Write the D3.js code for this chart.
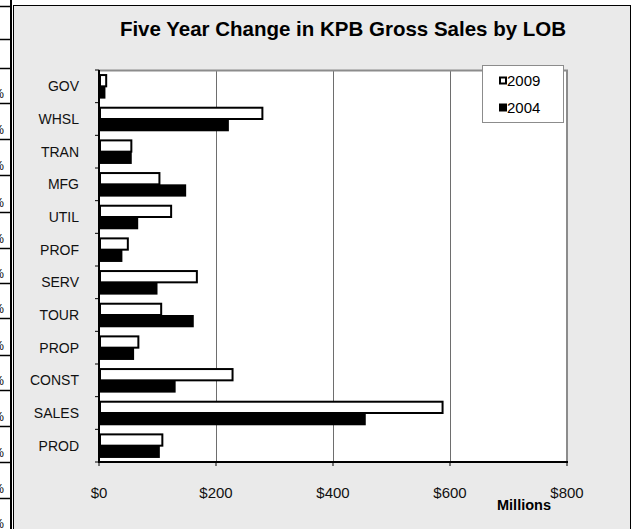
<!DOCTYPE html>
<html>
<head>
<meta charset="utf-8">
<script src="https://cdn.jsdelivr.net/npm/d3@7"></script>
<style>
  html, body { margin: 0; padding: 0; background: #ffffff; }
  svg { display: block; font-family: Arial, "Liberation Sans", sans-serif; }
</style>
</head>
<body>
<svg id="chart" width="633" height="529"></svg>
<script>
// ---- Data ----
const categories = ["GOV", "WHSL", "TRAN", "MFG", "UTIL", "PROF", "SERV", "TOUR", "PROP", "CONST", "SALES", "PROD"];
const seriesNames = ["2009", "2004"];
const values2009 = [14, 281, 57, 105, 125, 51, 169, 108, 69, 230, 589, 110];
const values2004 = [11, 222, 56, 149, 67, 40, 100, 162, 60, 131, 456, 104];
const xTicks = [0, 200, 400, 600, 800];
const titleText = "Five Year Change in KPB Gross Sales by LOB";
const axisTitle = "Millions";

const svg = d3.select("#chart");

// ---- Spreadsheet fragment on the far left ----
const rowLines = [6.5, 39.5, 68.5, 103.5, 139.5, 175.5, 212.5, 248.5, 283.5, 318.5, 355.5, 390.5, 426.5, 462.5, 498.5];
svg.append("g").selectAll("line").data(rowLines).join("line")
  .attr("x1", 0).attr("x2", 12).attr("y1", d => d).attr("y2", d => d)
  .attr("stroke", "#000").attr("stroke-width", 1.5);
svg.append("line").attr("x1", 11).attr("x2", 11).attr("y1", 0).attr("y2", 529)
  .attr("stroke", "#000").attr("stroke-width", 2);
svg.append("g").selectAll("text").data(rowLines.slice(3).concat([534])).join("text")
  .attr("x", 4).attr("y", d => d - 6).attr("text-anchor", "end")
  .attr("font-size", 12).attr("fill", "#000").text("0%");

// ---- Chart area ----
svg.append("rect").attr("x", 13.5).attr("y", 5.5).attr("width", 617).attr("height", 530)
  .attr("fill", "#eaeaea").attr("stroke", "#000").attr("stroke-width", 1);

svg.append("text").attr("x", 343).attr("y", 36).attr("text-anchor", "middle")
  .attr("font-size", 20.5).attr("font-weight", "bold").attr("fill", "#000").text(titleText);

const margin = { left: 99, top: 70, right: 567, bottom: 462 };
const x = d3.scaleLinear().domain([0, 800]).range([margin.left, margin.right]);
const y = d3.scaleBand().domain(categories).range([margin.top, margin.bottom]).paddingInner(0).paddingOuter(0);
const inner = d3.scaleBand().domain(seriesNames).range([0, y.bandwidth()]).paddingInner(0).paddingOuter(0.33);

// plot background
svg.append("rect").attr("x", margin.left).attr("y", margin.top)
  .attr("width", margin.right - margin.left).attr("height", margin.bottom - margin.top)
  .attr("fill", "#ffffff");

// gridlines
svg.append("g").selectAll("line").data(xTicks.slice(1, -1)).join("line")
  .attr("x1", d => Math.round(x(d)) + 0.5).attr("x2", d => Math.round(x(d)) + 0.5)
  .attr("y1", margin.top).attr("y2", margin.bottom)
  .attr("stroke", "#6e6e6e").attr("stroke-width", 1);

// plot top/right border
svg.append("path")
  .attr("d", `M${margin.left},${margin.top + 0.5}H${margin.right}V${margin.bottom}`)
  .attr("fill", "none").attr("stroke", "#8c8c8c").attr("stroke-width", 2);

// bars
const rows = categories.map((c, i) => ({ cat: c, v2009: values2009[i], v2004: values2004[i] }));
const g = svg.append("g");
g.selectAll("rect.b2009").data(rows).join("rect").attr("class", "b2009")
  .attr("x", x(0) + 1)
  .attr("y", d => y(d.cat) + inner("2009") + 1)
  .attr("width", d => Math.max(0, x(d.v2009) - x(0) - 2))
  .attr("height", inner.bandwidth() - 1)
  .attr("fill", "#ffffff").attr("stroke", "#000").attr("stroke-width", 2);
g.selectAll("rect.b2004").data(rows).join("rect").attr("class", "b2004")
  .attr("x", x(0))
  .attr("y", d => y(d.cat) + inner("2004"))
  .attr("width", d => x(d.v2004) - x(0))
  .attr("height", inner.bandwidth())
  .attr("fill", "#000");

// y axis
const yAxisG = svg.append("g").attr("transform", `translate(${margin.left},0)`);
yAxisG.append("line").attr("x1", 0).attr("x2", 0).attr("y1", margin.top).attr("y2", margin.bottom + 1)
  .attr("stroke", "#000").attr("stroke-width", 2);
const boundaries = categories.map(c => y(c)).concat([margin.bottom]);
yAxisG.selectAll("line.tk").data(boundaries).join("line").attr("class", "tk")
  .attr("x1", -4).attr("x2", 0).attr("y1", d => d).attr("y2", d => d)
  .attr("stroke", "#000").attr("stroke-width", 1);
svg.append("g").selectAll("text").data(categories).join("text")
  .attr("x", 79).attr("y", d => y(d) + y.bandwidth() / 2)
  .attr("dy", "0.35em").attr("text-anchor", "end")
  .attr("font-size", 14).attr("fill", "#111").text(d => d);

// x axis
const xAxisG = svg.append("g").attr("transform", `translate(0,${margin.bottom})`);
xAxisG.append("line").attr("x1", margin.left - 1).attr("x2", margin.right + 1).attr("y1", 0).attr("y2", 0)
  .attr("stroke", "#000").attr("stroke-width", 2);
xAxisG.selectAll("line.tk").data(xTicks).join("line").attr("class", "tk")
  .attr("x1", d => x(d)).attr("x2", d => x(d)).attr("y1", 0).attr("y2", 4)
  .attr("stroke", "#000").attr("stroke-width", 1);
xAxisG.selectAll("text").data(xTicks).join("text")
  .attr("x", d => x(d)).attr("y", 35.5).attr("text-anchor", "middle")
  .attr("font-size", 15).attr("fill", "#111").text(d => "$" + d);

svg.append("text").attr("x", 551).attr("y", 510).attr("text-anchor", "end")
  .attr("font-size", 14.5).attr("font-weight", "bold").attr("fill", "#000").text(axisTitle);

// legend
const lg = svg.append("g");
lg.append("rect").attr("x", 482.5).attr("y", 65.5).attr("width", 81).attr("height", 57)
  .attr("fill", "#ffffff").attr("stroke", "#8c8c8c").attr("stroke-width", 1);
seriesNames.forEach((s, i) => {
  const cy = 81 + i * 27;
  if (i === 0) {
    lg.append("rect").attr("x", 500).attr("y", cy - 3.5).attr("width", 6).attr("height", 6)
      .attr("fill", "#fff").attr("stroke", "#000").attr("stroke-width", 2);
  } else {
    lg.append("rect").attr("x", 499).attr("y", cy - 4.5).attr("width", 8).attr("height", 8).attr("fill", "#000");
  }
  lg.append("text").attr("x", 507).attr("y", cy).attr("dy", "0.36em")
    .attr("font-size", 15).attr("fill", "#000").text(s);
});
</script>
</body>
</html>
